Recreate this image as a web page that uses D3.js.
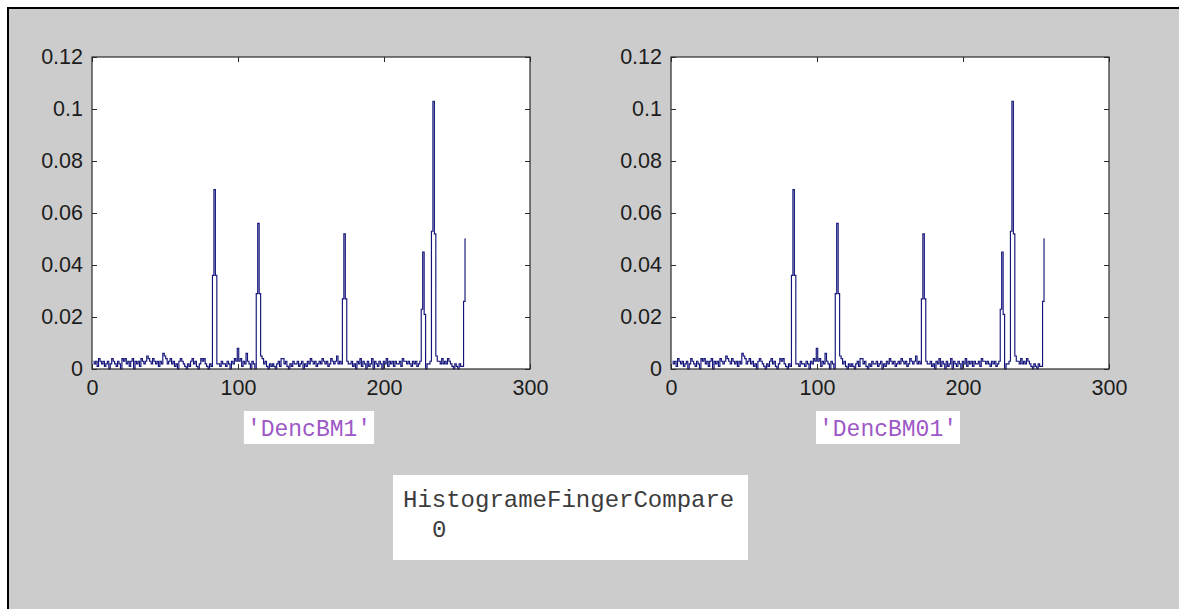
<!DOCTYPE html>
<html>
  <head>
    <meta charset="utf-8">
    <title>HistogrameFingerCompare</title>
    <script src="https://d3js.org/d3.v7.min.js"></script>
    <style>
      body { margin: 0; background: #fff; }
      .tick text { font-family: "Liberation Sans", Arial, sans-serif; font-size: 21.5px; fill: #1c1c1c; }
      .tick line { stroke: #2a2a2a; }
      .mono { font-family: "Courier New", "Liberation Mono", monospace; }
    </style>
  </head>
  <body>
    <svg id="svg" width="1179" height="609"></svg>
    <script>
      // tick values and labels
      const xTicks = [0, 100, 200, 300];
      const yTicks = [0, 0.02, 0.04, 0.06, 0.08, 0.1, 0.12];
      const yTickLabels = ["0", "0.02", "0.04", "0.06", "0.08", "0.1", "0.12"];
      const panelLabels = ["'DencBM1'", "'DencBM01'"];
      const resultTitle = "HistogrameFingerCompare";
      const resultValue = "0";
      // normalised grey-level histogram, bins 1..256
      const dencBM1 = [
        .003,.002,.003,.001,.004,.003,.002,.003,.001,.002,
        .003,.000,.002,.004,.003,.002,.001,.003,.002,.000,
        .004,.003,.004,.002,.003,.001,.003,.004,.000,.003,
        .002,.003,.001,.004,.003,.002,.003,.005,.004,.003,
        .002,.004,.003,.002,.003,.001,.003,.002,.006,.005,
        .004,.002,.003,.004,.002,.003,.001,.002,.000,.003,
        .004,.003,.002,.001,.000,.002,.001,.003,.004,.002,
        .003,.001,.000,.002,.004,.003,.004,.002,.001,.000,
        .002,.001,.036,.069,.036,.002,.002,.001,.003,.002,
        .002,.001,.003,.002,.000,.003,.002,.004,.003,.008,
        .003,.004,.001,.003,.002,.006,.003,.002,.000,.003,
        .002,.000,.029,.056,.029,.005,.004,.002,.003,.001,
        .000,.002,.001,.002,.001,.000,.002,.003,.001,.004,
        .004,.002,.003,.001,.000,.002,.001,.003,.002,.002,
        .003,.001,.002,.003,.000,.002,.001,.003,.002,.004,
        .003,.002,.003,.001,.002,.003,.002,.004,.003,.002,
        .003,.001,.002,.004,.003,.002,.003,.005,.002,.003,
        .002,.027,.052,.027,.003,.002,.002,.003,.001,.002,
        .000,.003,.002,.004,.001,.003,.002,.000,.003,.001,
        .002,.004,.000,.003,.002,.001,.003,.002,.000,.003,
        .002,.004,.001,.003,.002,.003,.001,.003,.002,.002,
        .003,.001,.004,.003,.003,.002,.003,.002,.001,.003,
        .002,.003,.001,.002,.003,.023,.045,.021,.000,.002,
        .002,.003,.053,.103,.052,.005,.003,.003,.002,.004,
        .002,.003,.002,.004,.003,.002,.001,.000,.002,.001,
        .000,.002,.001,.001,.026,.050
      ];
      // same image, so the compare result is 0
      const dencBM01 = dencBM1.slice();

      const svg = d3.select("#svg");
      const W = 1179, H = 609;

      // figure background + frame
      svg.append("rect").attr("x", 8).attr("y", 8).attr("width", W - 8).attr("height", H - 8).attr("fill", "#cccccc");
      svg.append("path").attr("d", "M8," + H + "V8H" + W).attr("fill", "none").attr("stroke", "#000").attr("stroke-width", 2);

      const panels = [
        { left: 92, right: 530, data: dencBM1, label: panelLabels[0] },
        { left: 671, right: 1109, data: dencBM01, label: panelLabels[1] }
      ];
      const plotTop = 57, plotBottom = 369;

      panels.forEach(function(p) {
        const x = d3.scaleLinear().domain([0, 300]).range([p.left, p.right]);
        const y = d3.scaleLinear().domain([0, 0.12]).range([plotBottom, plotTop]);
        const g = svg.append("g");
        g.append("rect")
          .attr("x", p.left).attr("y", plotTop)
          .attr("width", p.right - p.left).attr("height", plotBottom - plotTop)
          .attr("fill", "#fff");
        // data line
        const line = d3.line()
          .x(function(d, i) { return x(i + 1); })
          .y(function(d) { return y(d); })
          .curve(d3.curveStep);
        g.append("path")
          .datum(p.data)
          .attr("d", line)
          .attr("fill", "none")
          .attr("stroke", "#14147a")
          .attr("stroke-width", 1.15);
        // axes, ticks inward on all sides
        g.append("g").attr("transform", "translate(0," + plotBottom + ")")
          .call(d3.axisBottom(x).tickValues(xTicks).tickSize(-5).tickSizeOuter(0).tickPadding(11).tickFormat(d3.format("d")));
        g.append("g").attr("transform", "translate(0," + plotTop + ")")
          .call(d3.axisTop(x).tickValues(xTicks).tickSize(-5).tickSizeOuter(0).tickFormat(""));
        g.append("g").attr("transform", "translate(" + p.left + ",0)")
          .call(d3.axisLeft(y).tickValues(yTicks).tickSize(-5).tickSizeOuter(0).tickPadding(9)
            .tickFormat(function(d, i) { return yTickLabels[i]; }));
        g.append("g").attr("transform", "translate(" + p.right + ",0)")
          .call(d3.axisRight(y).tickValues(yTicks).tickSize(-5).tickSizeOuter(0).tickFormat(""));
        g.selectAll(".domain").remove();
        g.append("rect")
          .attr("x", p.left).attr("y", plotTop)
          .attr("width", p.right - p.left).attr("height", plotBottom - plotTop)
          .attr("fill", "none").attr("stroke", "#2a2a2a").attr("stroke-width", 1.2);
        // variable name label
        const cx = (p.left + p.right) / 2 - 2;
        const lab = g.append("g");
        const box = lab.append("rect").attr("fill", "#fff");
        const t = lab.append("text")
          .attr("class", "mono")
          .attr("x", cx).attr("y", 436)
          .attr("text-anchor", "middle")
          .attr("font-size", "23px")
          .attr("fill", "#9d58c6")
          .text(p.label);
        const bb = t.node().getBBox();
        box.attr("x", bb.x - 3).attr("y", 411).attr("width", bb.width + 6).attr("height", 33);
      });

      // compare result box
      svg.append("rect").attr("x", 393).attr("y", 475).attr("width", 355).attr("height", 85).attr("fill", "#fff");
      svg.append("text").attr("class", "mono")
        .attr("x", 403).attr("y", 507)
        .attr("font-size", "24px").attr("fill", "#3c3c3c")
        .text(resultTitle);
      svg.append("text").attr("class", "mono")
        .attr("x", 432).attr("y", 537)
        .attr("font-size", "24px").attr("fill", "#3c3c3c")
        .text(resultValue);
    </script>
  </body>
</html>
